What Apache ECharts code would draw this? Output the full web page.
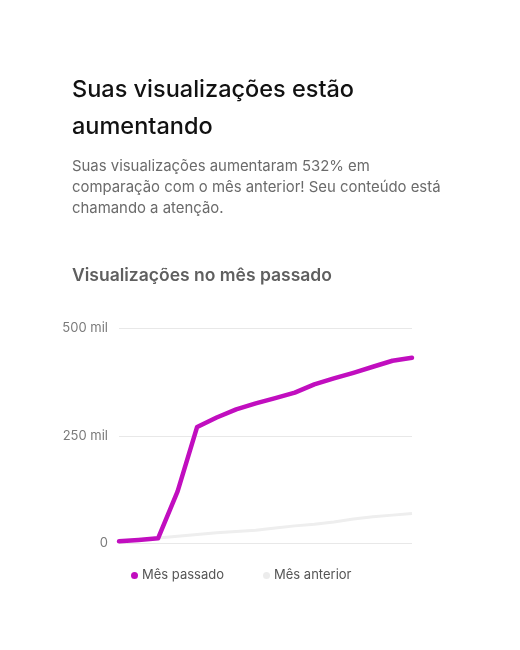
<!DOCTYPE html>
<html>
<head>
<meta charset="utf-8">
<script src="https://cdn.jsdelivr.net/npm/echarts@6/dist/echarts.min.js"></script>
<style>
html,body{margin:0;padding:0;background:#fff;}
#c{width:520px;height:650px;}
</style>
</head>
<body>
<div id="c"></div>
<script>
var days = ['1','3','5','7','9','11','13','15','17','19','21','23','25','27','29','31'];
var mesPassado = [5000, 8000, 12000, 121000, 271000, 293000, 312000, 326000, 338000, 351000, 370000, 384000, 397000, 411000, 425000, 432000];
var mesAnterior = [5000, 9000, 13000, 17000, 21000, 25000, 28000, 31000, 36000, 41000, 45000, 50000, 57000, 62000, 66000, 70000];
var yTicks = [0, 250000, 500000];
var yTickLabels = ['0', '250 mil', '500 mil'];
var seriesNames = ['Mês passado', 'Mês anterior'];

var chart = echarts.init(document.getElementById('c'), null, {renderer: 'canvas'});
var font = 'Inter, "Noto Sans", "Liberation Sans", sans-serif';
chart.setOption({
  backgroundColor: '#ffffff',
  animation: false,
  title: [
    {text: 'Suas visualizações estão\naumentando', left: 67, top: 66,
     textStyle: {fontFamily: font, fontSize: 23.5, fontWeight: 500, color: '#111111', lineHeight: 37}},
    {text: 'Suas visualizações aumentaram 532% em\ncomparação com o mês anterior! Seu conteúdo está\nchamando a atenção.', left: 67, top: 151,
     textStyle: {fontFamily: font, fontSize: 14.9, fontWeight: 400, color: '#6b6b6b', lineHeight: 21}},
    {text: 'Visualizações no mês passado', left: 67, top: 262,
     textStyle: {fontFamily: font, fontSize: 17.5, fontWeight: 600, color: '#5f5f5f'}}
  ],
  grid: {left: 119, right: 108, top: 328.5, bottom: 106.5, containLabel: false},
  xAxis: {
    type: 'category', data: days, boundaryGap: false,
    axisLine: {show: false}, axisTick: {show: false}, axisLabel: {show: false}, splitLine: {show: false}
  },
  yAxis: {
    type: 'value', min: 0, max: 500000, interval: 250000,
    axisLine: {show: false}, axisTick: {show: false},
    splitLine: {lineStyle: {color: '#e8e8e8', width: 1}},
    axisLabel: {
      margin: 11, fontFamily: font, fontSize: 13, color: '#7a7a7a',
      formatter: function (v) { var i = yTicks.indexOf(v); return i >= 0 ? yTickLabels[i] : ''; }
    }
  },
  legend: {
    data: seriesNames, left: 126, top: 564, icon: 'circle', itemWidth: 7, itemHeight: 7, itemGap: 39,
    textStyle: {fontFamily: font, fontSize: 13, color: '#555555', padding: [0, 0, 0, -1]}
  },
  series: [
    {name: seriesNames[1], type: 'line', data: mesAnterior, symbol: 'none', z: 1,
     itemStyle: {color: '#ececec'}, lineStyle: {color: '#eeeeee', width: 3}},
    {name: seriesNames[0], type: 'line', data: mesPassado, symbol: 'none', z: 2,
     itemStyle: {color: '#c10ebf'}, lineStyle: {color: '#c10ebf', width: 4.5, cap: 'round', join: 'round'}}
  ]
});
</script>
</body>
</html>
